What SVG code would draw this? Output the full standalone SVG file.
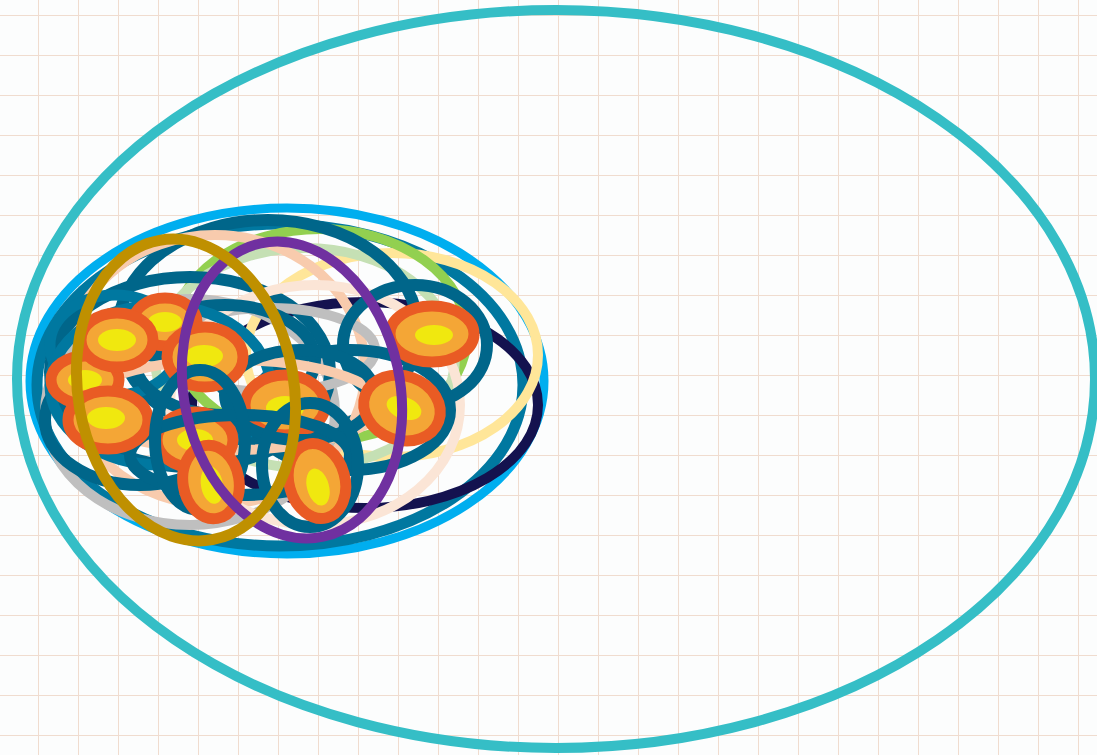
<svg xmlns="http://www.w3.org/2000/svg" width="1097" height="755" viewBox="0 0 1097 755">
<defs>
<pattern id="grid" x="38" y="15" width="40" height="40" patternUnits="userSpaceOnUse">
<path d="M0 0V40M0 0H40" fill="none" stroke="#f0dccf" stroke-width="2"/>
</pattern>
<style>
.r{fill:none}
.dt{fill:none;stroke:#00668a;stroke-width:12}
.lt{fill:none;stroke:#0078a0;stroke-width:11}
.ring{fill:#f4a636;stroke:#e95b24;stroke-width:11}
.yel{fill:#f0e80f}
</style>
</defs>
<rect width="1097" height="755" fill="#fcfdfd"/>
<rect width="1097" height="755" fill="url(#grid)"/>
<g id="outer">
<ellipse cx="556" cy="379" rx="539" ry="369" class="r" stroke="#35bec6" stroke-width="10"/>
</g>
<g id="blue">
<ellipse cx="287" cy="381" rx="257" ry="173" class="r" stroke="#00aeef" stroke-width="9"/>
</g>
<g id="rings">
<ellipse cx="280" cy="385" rx="243" ry="161" class="lt"/>
<ellipse cx="365" cy="405" rx="173" ry="103" class="r" stroke="#14124f" stroke-width="10"/>
<ellipse cx="392" cy="355" rx="146" ry="102" class="r" stroke="#ffe699" stroke-width="10"/>
<ellipse cx="320" cy="335" rx="147" ry="106" class="r" stroke="#92d050" stroke-width="10"/>
<ellipse cx="305" cy="358" rx="150" ry="110" class="r" stroke="#c5e0b4" stroke-width="10"/>
<ellipse cx="268" cy="330" rx="150" ry="110" class="dt"/>
<ellipse cx="215" cy="370" rx="150" ry="135" class="r" stroke="#f8cbad" stroke-width="10"/>
<ellipse cx="190" cy="412" rx="145" ry="113" class="r" stroke="#bfbfbf" stroke-width="10"/>
<ellipse cx="190" cy="372" rx="140" ry="95" class="dt"/>
<ellipse cx="270" cy="350" rx="105" ry="42" class="r" stroke="#bfbfbf" stroke-width="10"/>
<ellipse cx="315" cy="405" rx="145" ry="120" class="r" stroke="#fbe5d6" stroke-width="10"/>
<ellipse cx="415" cy="345" rx="72" ry="60" class="dt"/>
<ellipse cx="140" cy="420" rx="95" ry="65" class="dt"/>
<ellipse cx="115" cy="345" rx="65" ry="50" class="lt"/>
<ellipse cx="225" cy="360" rx="90" ry="55" class="dt"/>
<ellipse cx="350" cy="410" rx="100" ry="60" class="dt"/>
<ellipse cx="160" cy="385" rx="110" ry="80" class="lt"/>
<ellipse cx="230" cy="405" rx="150" ry="45" class="r" stroke="#f8cbad" stroke-width="10"/>
</g>
<g id="n11"><ellipse cx="85" cy="380" rx="34" ry="24" class="ring"/><ellipse cx="85" cy="380" rx="17" ry="10" class="yel"/></g>
<g id="n10"><ellipse cx="165" cy="322" rx="32" ry="24" class="ring"/><ellipse cx="165" cy="322" rx="17" ry="10" class="yel"/></g>
<g id="n9"><ellipse cx="195" cy="440" rx="38" ry="28" class="ring"/><ellipse cx="195" cy="440" rx="18" ry="11" class="yel"/></g>
<g id="n8"><ellipse cx="285" cy="405" rx="40" ry="30" class="ring"/><ellipse cx="285" cy="408" rx="19" ry="12" class="yel"/></g>
<g id="midrings">
<ellipse cx="300" cy="395" rx="75" ry="45" class="dt"/>
<ellipse cx="240" cy="455" rx="110" ry="40" class="dt"/>
</g>
<g id="n1"><ellipse cx="117" cy="340" rx="36" ry="27" class="ring"/><ellipse cx="117" cy="340" rx="19" ry="11" class="yel"/></g>
<g id="n2"><ellipse cx="205" cy="357" rx="38" ry="30" class="ring"/><ellipse cx="204" cy="356" rx="19" ry="11" class="yel"/></g>
<g id="n7"><ellipse cx="108" cy="420" rx="40" ry="29" class="ring"/><ellipse cx="106" cy="418" rx="19" ry="11" class="yel"/></g>
<g id="n3"><ellipse cx="432" cy="334" rx="42" ry="28" class="ring"/><ellipse cx="434" cy="335" rx="19" ry="10" class="yel"/></g>
<g id="n4"><ellipse cx="402" cy="408" rx="39" ry="32" class="ring" transform="rotate(20 402 408)"/><ellipse cx="404" cy="408" rx="18" ry="11" class="yel" transform="rotate(20 404 408)"/></g>
<g id="lowrings">
<ellipse cx="200" cy="440" rx="45" ry="70" class="dt"/>
<ellipse cx="310" cy="465" rx="48" ry="62" class="dt"/>
</g>
<g id="n5"><ellipse cx="211" cy="482" rx="28" ry="37" class="ring" transform="rotate(-10 211 482)"/><ellipse cx="212" cy="485" rx="11" ry="19" class="yel" transform="rotate(-10 212 485)"/></g>
<g id="n6"><ellipse cx="317" cy="481" rx="28" ry="38" class="ring" transform="rotate(-15 317 481)"/><ellipse cx="318" cy="487" rx="11" ry="19" class="yel" transform="rotate(-15 318 487)"/></g>
<g id="purple">
<ellipse cx="292" cy="390" rx="108" ry="150" class="r" stroke="#7030a0" stroke-width="10" transform="rotate(-12 292 390)"/>
</g>
<g id="gold">
<ellipse cx="186" cy="390" rx="108" ry="152" class="r" stroke="#bf9000" stroke-width="11" transform="rotate(-10 186 390)"/>
</g>
</svg>
